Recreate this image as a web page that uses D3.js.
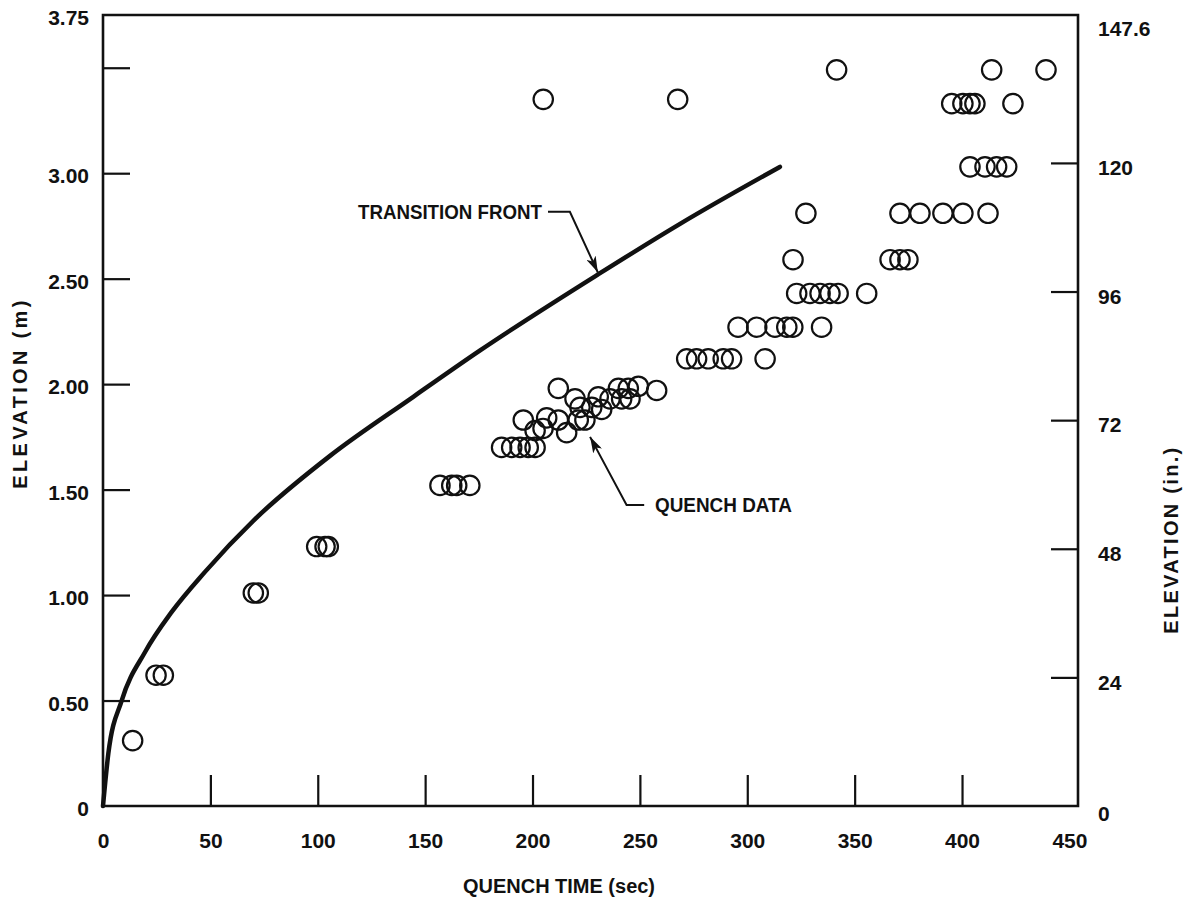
<!DOCTYPE html>
<html><head><meta charset="utf-8">
<script src="https://cdn.jsdelivr.net/npm/d3@7"></script>
<style>
body{margin:0;background:#fff;}
svg text{font-family:"Liberation Sans",Arial,Helvetica,sans-serif;font-weight:bold;fill:#111;}
</style></head><body><svg id="chart" width="1188" height="900"></svg>
<script>
// ---- data ----
const quenchTime = [13.8, 24.7, 28.1, 70.0, 72.3, 99.5, 103.4, 104.9,
  156.9, 162.4, 164.7, 170.8,
  185.6, 190.3, 194.2, 198.0, 201.2,
  212.0, 195.7, 201.2, 204.9, 206.6, 212.0, 215.9, 219.8, 221.3, 224.4, 222.1, 227.6, 230.6, 232.2, 236.1, 240.0, 241.5, 244.6, 245.4, 249.3, 257.8,
  271.8, 276.4, 281.8, 288.8, 292.7, 308.3,
  295.7, 304.4, 312.9, 318.4, 321.2, 334.6,
  323.0, 329.2, 333.9, 338.5, 342.3, 355.6,
  321.3, 366.5, 371.1, 374.8,
  327.3, 371.1, 380.4, 391.1, 400.4, 412.1,
  403.7, 410.7, 416.1, 420.8,
  205.0, 267.6, 395.2, 400.4, 403.7, 406.0, 423.7,
  341.6, 413.8, 439.1];
const quenchElev = [0.31, 0.62, 0.62, 1.01, 1.01, 1.23, 1.23, 1.23,
  1.52, 1.52, 1.52, 1.52,
  1.70, 1.70, 1.70, 1.70, 1.70,
  1.98, 1.83, 1.78, 1.79, 1.84, 1.83, 1.77, 1.93, 1.83, 1.83, 1.89, 1.89, 1.94, 1.88, 1.93, 1.98, 1.93, 1.98, 1.93, 1.99, 1.97,
  2.12, 2.12, 2.12, 2.12, 2.12, 2.12,
  2.27, 2.27, 2.27, 2.27, 2.27, 2.27,
  2.43, 2.43, 2.43, 2.43, 2.43, 2.43,
  2.59, 2.59, 2.59, 2.59,
  2.81, 2.81, 2.81, 2.81, 2.81, 2.81,
  3.03, 3.03, 3.03, 3.03,
  3.35, 3.35, 3.33, 3.33, 3.33, 3.33, 3.33,
  3.49, 3.49, 3.49];
const frontTime = [0, 2.5, 8.7, 19.6, 32.0, 47.5, 70.8, 105.7, 144.5, 175.6, 230.5, 268.7, 315.2];
const frontElev = [0, 0.25, 0.50, 0.73, 0.92, 1.11, 1.36, 1.66, 1.94, 2.16, 2.52, 2.76, 3.03];

const xTickLabels = [0, 50, 100, 150, 200, 250, 300, 350, 400, 450];
const xInnerTicks = [50, 100, 150, 200, 250, 300, 350, 400];
const yLeftLabels = [0, 0.5, 1.0, 1.5, 2.0, 2.5, 3.0, 3.75];
const yLeftInnerTicks = [0.5, 1.0, 1.5, 2.0, 2.5, 3.0, 3.5];
const yRightLabels = [0, 24, 48, 72, 96, 120, 147.6];
const yRightInnerTicks = [24, 48, 72, 96, 120];

const xTitle = "QUENCH TIME (sec)";
const yLeftTitle = "ELEVATION (m)";
const yRightTitle = "ELEVATION (in.)";
const frontLabel = "TRANSITION FRONT";
const quenchLabel = "QUENCH DATA";

// ---- layout ----
const svg = d3.select("#chart");
const x = d3.scaleLinear().domain([0, 454]).range([103, 1078]);
const y = d3.scaleLinear().domain([0, 3.75]).range([806, 15]);
const yIn = d3.scaleLinear().domain([0, 147.6]).range([806, 15]);

// frame
const x0 = x(0), x1 = x(454), yb = y(0), yt = y(3.75);
svg.append("path")
  .attr("d", `M${x0},${yt}L${x1},${yt}L${x1},${yb}L${x0},${yb}Z`)
  .attr("fill", "none").attr("stroke", "#111").attr("stroke-width", 2.6);

// inner ticks
function styleTicks(g){ g.select(".domain").remove(); g.selectAll("line").attr("stroke", "#111").attr("stroke-width", 2.2); }
svg.append("g").attr("transform", `translate(${x0},0)`)
  .call(d3.axisLeft(y).tickValues(yLeftInnerTicks).tickSize(-27).tickFormat(""))
  .call(styleTicks);
svg.append("g").attr("transform", `translate(0,${yb})`)
  .call(d3.axisBottom(x).tickValues(xInnerTicks).tickSize(-31).tickFormat(""))
  .call(styleTicks);
svg.append("g").attr("transform", `translate(${x1},0)`)
  .call(d3.axisRight(yIn).tickValues(yRightInnerTicks).tickSize(-27).tickFormat(""))
  .call(styleTicks);

// labels
function styleLabels(g){ g.select(".domain").remove(); g.selectAll("line").remove();
  g.selectAll("text").attr("font-size", 21).attr("font-family", null).attr("fill", "#111"); }
svg.append("g").attr("transform", `translate(${x0},3)`)
  .call(d3.axisLeft(y).tickValues(yLeftLabels).tickSize(0).tickPadding(14)
    .tickFormat(d => d === 0 ? "0" : d3.format(".2f")(d)))
  .call(styleLabels);
svg.append("g").attr("transform", `translate(0,${yb})`)
  .call(d3.axisBottom(x).tickValues(xTickLabels).tickSize(0).tickPadding(27).tickFormat(d3.format("d")))
  .call(styleLabels);
const rl = svg.append("g").attr("transform", `translate(${x1},5)`)
  .call(d3.axisRight(yIn).tickValues(yRightLabels).tickSize(0).tickPadding(20)
    .tickFormat(d => d === 147.6 ? "147.6" : d3.format("d")(d)))
  .call(styleLabels);
rl.selectAll(".tick").filter(d => d === 147.6).select("text").attr("dy", "0.72em");
rl.selectAll(".tick").filter(d => d === 0).select("text").attr("dy", "0.45em");

// axis titles
svg.append("text").attr("x", 559).attr("y", 893)
  .attr("text-anchor", "middle").attr("font-size", 20)
  .attr("textLength", 192).attr("lengthAdjust", "spacingAndGlyphs").text(xTitle);
svg.append("text").attr("transform", `translate(27,${y(1.95)}) rotate(-90)`)
  .attr("text-anchor", "middle").attr("font-size", 20)
  .attr("textLength", 188).attr("lengthAdjust", "spacing").text(yLeftTitle);
svg.append("text").attr("transform", `translate(1178,${yIn(49.5)}) rotate(-90)`)
  .attr("text-anchor", "middle").attr("font-size", 20)
  .attr("textLength", 186).attr("lengthAdjust", "spacing").text(yRightTitle);

// transition front curve
const line = d3.line().x(d => x(d[0])).y(d => y(d[1])).curve(d3.curveMonotoneX);
svg.append("path").datum(frontTime.map((t, i) => [t, frontElev[i]]))
  .attr("d", line).attr("fill", "none").attr("stroke", "#111")
  .attr("stroke-width", 4.5).attr("stroke-linecap", "round");

// quench data circles
svg.append("g").selectAll("circle")
  .data(quenchTime.map((t, i) => [t, quenchElev[i]]))
  .join("circle")
  .attr("cx", d => x(d[0])).attr("cy", d => y(d[1])).attr("r", 9.7)
  .attr("fill", "none").attr("stroke", "#111").attr("stroke-width", 2.2);

// arrow marker
svg.append("defs").append("marker").attr("id", "ah")
  .attr("viewBox", "0 0 16 10").attr("refX", 16).attr("refY", 5)
  .attr("markerWidth", 16).attr("markerHeight", 10).attr("markerUnits", "userSpaceOnUse")
  .attr("orient", "auto")
  .append("path").attr("d", "M0,0L16,5L0,10L4,5Z").attr("fill", "#111");

const aLine = d3.line().x(d => x(d[0])).y(d => y(d[1]));
// transition front annotation
svg.append("text").attr("x", x(204.4)).attr("y", y(2.817)).attr("dy", "0.35em")
  .attr("text-anchor", "end").attr("font-size", 20)
  .attr("textLength", 184).attr("lengthAdjust", "spacingAndGlyphs").text(frontLabel);
svg.append("path").datum([[207.2, 2.817], [217.4, 2.817], [230.4, 2.53]])
  .attr("d", aLine).attr("fill", "none").attr("stroke", "#111").attr("stroke-width", 2)
  .attr("marker-end", "url(#ah)");

// quench data annotation
svg.append("text").attr("x", x(257.0)).attr("y", y(1.427)).attr("dy", "0.35em")
  .attr("text-anchor", "start").attr("font-size", 20)
  .attr("textLength", 137).attr("lengthAdjust", "spacingAndGlyphs").text(quenchLabel);
svg.append("path").datum([[252.0, 1.427], [243.8, 1.427], [226.8, 1.75]])
  .attr("d", aLine).attr("fill", "none").attr("stroke", "#111").attr("stroke-width", 2)
  .attr("marker-end", "url(#ah)");
</script></body></html>
